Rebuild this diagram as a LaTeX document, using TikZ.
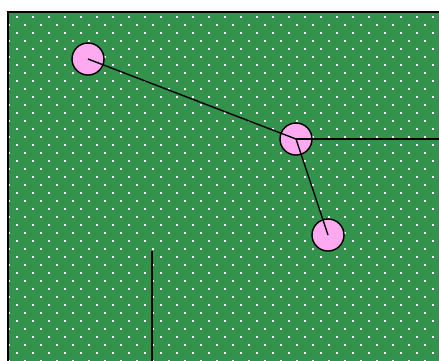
\documentclass[tikz,border=0pt]{standalone}
\definecolor{fieldgreen}{RGB}{51,146,76}
\definecolor{stonepink}{RGB}{255,170,240}
\tikzset{
  stone/.style={circle, draw=black, fill=stonepink, line width=1.4pt, minimum size=32pt, inner sep=0pt},
  wire/.style={line width=1.4pt}
}
\begin{document}
\begin{tikzpicture}[x=1pt,y=-1pt]
  \useasboundingbox (0,0) rectangle (439,360);
  % field with dot pattern
  \begin{scope}
    \clip (8,12) rectangle (450,370);
    \fill[fieldgreen] (8,12) rectangle (450,370);
    \foreach \r in {0,...,44} {
      \pgfmathsetmacro{\yy}{17+8*\r}
      \pgfmathsetmacro{\xo}{mod(\r,2)==0 ? 17 : 9}
      \foreach \c in {0,...,27}
        \fill[white] (\xo+16*\c-1,\yy-1) rectangle ++(2,2);
    }
  \end{scope}
  \draw[line width=1.6pt] (450,12) -- (8,12) -- (8,370);
  % stones
  \node[stone] (s1) at (88,59) {};
  \node[stone] (s2) at (296,139) {};
  \node[stone] (s3) at (328,235) {};
  \coordinate (e1) at (445,139);
  \coordinate (w1) at (152,251);
  \coordinate (w2) at (152,365);
  % connectors
  \draw[wire] (s1.center) -- (s2.center);
  \draw[wire] (s2.center) -- (s3.center);
  \draw[wire] (s2.center) -- (e1);
  \draw[wire] (w1) -- (w2);
\end{tikzpicture}
\end{document}
